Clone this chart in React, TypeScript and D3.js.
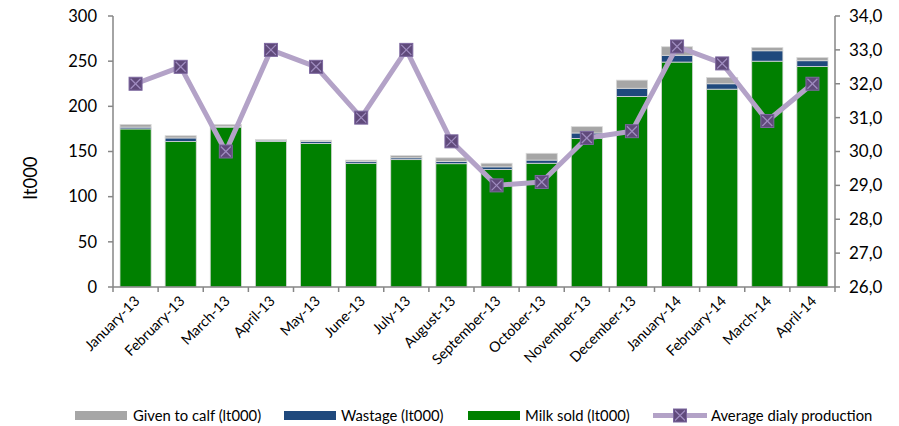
import React from "react";
import * as d3 from "d3";

const months = [
  "January-13", "February-13", "March-13", "April-13", "May-13", "June-13", "July-13", "August-13",
  "September-13", "October-13", "November-13", "December-13", "January-14", "February-14", "March-14", "April-14",
];
const milkSold = [175, 161, 177, 161, 159, 137, 141, 136.5, 130, 137, 164.5, 211, 249, 219, 250, 244];
const wastage = [2, 4, 1, 1.5, 2, 2, 2, 2.5, 3, 3.5, 6, 9, 7.5, 6, 11.5, 6.5];
const givenToCalf = [3, 2.5, 2, 0.8, 1.5, 1.5, 2.5, 4, 4, 7.5, 7, 9, 9.5, 7, 3.5, 3.5];
const avgDaily = [32.0, 32.5, 30.0, 33.0, 32.5, 31.0, 33.0, 30.3, 29.0, 29.1, 30.4, 30.6, 33.1, 32.6, 30.9, 32.0];
const leftTicks = [0, 50, 100, 150, 200, 250, 300];
const rightTicks = [26, 27, 28, 29, 30, 31, 32, 33, 34];

const W = 899, H = 426;
const L = 113, R = 835, T = 16, B = 287;
const FONT = "Lato, 'Open Sans', sans-serif";
const AXIS = "#868686";

export default function App() {
  const x = d3.scaleBand<string>().domain(months).range([L, R]).paddingInner(0.31).paddingOuter(0.155);
  const y = d3.scaleLinear().domain([0, 300]).range([B, T]);
  const y2 = d3.scaleLinear().domain([26, 34]).range([B, T]);
  const bw = x.bandwidth();
  const step = x.step();

  const stackData = months.map((m, i) => ({ m, milk: milkSold[i], waste: wastage[i], calf: givenToCalf[i] }));
  const series = d3.stack<any>().keys(["milk", "waste", "calf"])(stackData);
  const colors: Record<string, string> = { milk: "#008000", waste: "#1f497d", calf: "#a6a6a6" };

  const line = d3
    .line<number>()
    .x((_, i) => (x(months[i]) as number) + bw / 2)
    .y((d) => y2(d));

  const ms = 13;
  const marker = (cx: number, cy: number, key: string | number) => (
    <g key={key}>
      <rect x={cx - ms / 2} y={cy - ms / 2} width={ms} height={ms} fill="#604a7b" stroke="#7d68a0" strokeWidth={1} />
      <line x1={cx - ms / 2 + 1.5} y1={cy - ms / 2 + 1.5} x2={cx + ms / 2 - 1.5} y2={cy + ms / 2 - 1.5} stroke="#9f8cc0" strokeWidth={1.3} />
      <line x1={cx + ms / 2 - 1.5} y1={cy - ms / 2 + 1.5} x2={cx - ms / 2 + 1.5} y2={cy + ms / 2 - 1.5} stroke="#9f8cc0" strokeWidth={1.3} />
    </g>
  );

  const boundaries = d3.range(months.length + 1).map((i) => L + i * step);

  return (
    <svg width={W} height={H} style={{ position: "fixed", left: 0, top: 0, background: "#fff" }} fontFamily={FONT}>
      <rect width={W} height={H} fill="#fff" />
      {series.map((s) => (
        <g key={s.key}>
          {s.map((d, i) => (
            <rect
              key={i}
              x={x(months[i])}
              y={y(d[1])}
              width={bw}
              height={Math.max(0, y(d[0]) - y(d[1]))}
              fill={colors[s.key]}
              stroke="#d9d9d9"
              strokeWidth={0.8}
            />
          ))}
        </g>
      ))}
      <line x1={L} y1={T} x2={L} y2={B} stroke={AXIS} strokeWidth={1.5} />
      {leftTicks.map((t) => (
        <g key={t}>
          <line x1={L - 5} x2={L} y1={y(t)} y2={y(t)} stroke={AXIS} strokeWidth={1.5} />
          <text x={97} y={y(t)} dy="0.35em" textAnchor="end" fontSize={16.5} fill="#000">{t}</text>
        </g>
      ))}
      <line x1={R} y1={T} x2={R} y2={B} stroke={AXIS} strokeWidth={1.5} />
      {rightTicks.map((t) => (
        <g key={t}>
          <line x1={R} x2={R + 5} y1={y2(t)} y2={y2(t)} stroke={AXIS} strokeWidth={1.5} />
          <text x={849} y={y2(t)} dy="0.35em" textAnchor="start" fontSize={17} fill="#000">{t.toFixed(1).replace(".", ",")}</text>
        </g>
      ))}
      <line x1={L} y1={B} x2={R} y2={B} stroke={AXIS} strokeWidth={1.5} />
      {boundaries.map((bx, i) => (
        <line key={i} x1={bx} x2={bx} y1={B} y2={B + 5} stroke={AXIS} strokeWidth={1.5} />
      ))}
      {months.map((m) => {
        const cx = (x(m) as number) + bw / 2 + 5;
        const cy = 302;
        return (
          <text key={m} transform={`translate(${cx},${cy}) rotate(-45)`} textAnchor="end" fontSize={14.3} fill="#000">
            {m}
          </text>
        );
      })}
      <text transform={`translate(37,178) rotate(-90)`} textAnchor="middle" fontSize={18.5} fill="#000">lt000</text>
      <path d={line(avgDaily) || ""} fill="none" stroke="#b3a2c7" strokeWidth={5} strokeLinejoin="round" />
      {avgDaily.map((v, i) => marker((x(months[i]) as number) + bw / 2, y2(v), i))}
      <g fontSize={14.8} fill="#000">
        <rect x={75} y={411} width={52} height={9} fill="#a6a6a6" />
        <text x={133} y={415.5} dy="0.35em">Given to calf (lt000)</text>
        <rect x={284} y={411} width={52} height={9} fill="#1f497d" />
        <text x={341} y={415.5} dy="0.35em">Wastage (lt000)</text>
        <rect x={468} y={411} width={52} height={9} fill="#008000" />
        <text x={525} y={415.5} dy="0.35em">Milk sold (lt000)</text>
        <line x1={653} x2={707} y1={415.5} y2={415.5} stroke="#b3a2c7" strokeWidth={5} />
        {marker(680, 415.5, "leg")}
        <text x={711} y={415.5} dy="0.35em">Average dialy production</text>
      </g>
    </svg>
  );
}
